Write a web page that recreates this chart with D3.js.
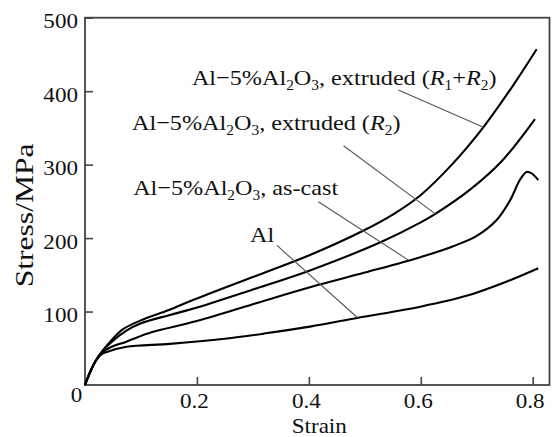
<!DOCTYPE html>
<html>
<head>
<meta charset="utf-8">
<script src="https://cdn.jsdelivr.net/npm/d3@7"></script>
<style>
  html, body { margin: 0; padding: 0; background: #fff; }
  svg { display: block; }
  text { font-family: "Liberation Serif", "Times New Roman", serif; fill: #111; }
</style>
</head>
<body>
<svg id="chart" width="552" height="437"></svg>
<script>
// Stress–strain curves (strain, stress in MPa)
const strainR12 = [0, 0.005, 0.01, 0.02, 0.03, 0.045, 0.068, 0.1, 0.15, 0.194, 0.3, 0.402, 0.497, 0.55, 0.599, 0.658, 0.712, 0.766, 0.807];
const stressR12 = [0, 10, 19, 34, 45, 59, 76, 88, 102, 116, 147, 177, 210, 232, 258, 302, 351, 409, 457];

const strainR2 = [0, 0.005, 0.01, 0.02, 0.03, 0.045, 0.074, 0.1, 0.15, 0.194, 0.3, 0.402, 0.53, 0.599, 0.626, 0.688, 0.745, 0.804];
const stressR2 = [0, 10, 19, 34, 45, 57, 74, 84, 95, 104, 130, 156, 195, 221, 233, 266, 305, 362];

const strainCast = [0, 0.005, 0.01, 0.02, 0.03, 0.045, 0.074, 0.12, 0.194, 0.3, 0.402, 0.5, 0.599, 0.658, 0.7, 0.736, 0.76, 0.777, 0.789, 0.798, 0.81];
const stressCast = [0, 10, 19, 34, 44, 51, 59, 72, 86, 110, 133, 153, 174, 189, 203, 225, 252, 279, 290, 288, 279];

const strainAl = [0, 0.005, 0.01, 0.02, 0.03, 0.039, 0.074, 0.152, 0.25, 0.32, 0.402, 0.488, 0.599, 0.68, 0.754, 0.81];
const stressAl = [0, 10, 19, 34, 42, 45, 52, 56, 63, 70, 79.5, 91.5, 106.6, 121, 141, 159];

// Axis ticks
const xTicks = [0.2, 0.4, 0.6, 0.8];
const xTickLabels = ["0.2", "0.4", "0.6", "0.8"];
const yTicks = [100, 200, 300, 400, 500];
const yTickLabels = ["100", "200", "300", "400", "500"];

// Curve labels: text pieces, text anchor point (strain, stress) and leader line ends
const labelPieces = [
  [{t: "Al\u22125%Al"}, {t: "2", sub: true}, {t: "O"}, {t: "3", sub: true}, {t: ", extruded ("}, {t: "R", it: true}, {t: "1", sub: true}, {t: "+"}, {t: "R", it: true}, {t: "2", sub: true}, {t: ")"}],
  [{t: "Al\u22125%Al"}, {t: "2", sub: true}, {t: "O"}, {t: "3", sub: true}, {t: ", extruded ("}, {t: "R", it: true}, {t: "2", sub: true}, {t: ")"}],
  [{t: "Al\u22125%Al"}, {t: "2", sub: true}, {t: "O"}, {t: "3", sub: true}, {t: ", as-cast"}],
  [{t: "Al"}]
];
const labelAt = [[0.191, 408], [0.084, 347], [0.086, 259], [0.295, 195]];
const leaderFrom = [[0.560, 401.6], [0.462, 325.7], [0.417, 249.5], [0.343, 190]];
const leaderTo = [[0.712, 351], [0.626, 233], [0.578, 170], [0.487, 91.5]];

const series = [
  {x: strainR12, y: stressR12},
  {x: strainR2, y: stressR2},
  {x: strainCast, y: stressCast},
  {x: strainAl, y: stressAl}
];

const svg = d3.select("#chart");
const x = d3.scaleLinear().domain([0, 0.83]).range([85, 549.5]);
const y = d3.scaleLinear().domain([0, 500]).range([385, 17.7]);
const sx = 1.1; // horizontal text stretch

const axisColor = "#444";

// Frame
svg.append("rect")
  .attr("x", x(0)).attr("y", y(500))
  .attr("width", x(0.83) - x(0)).attr("height", y(0) - y(500))
  .attr("fill", "none").attr("stroke", axisColor).attr("stroke-width", 1.8);

// Y axis
const yAxis = svg.append("g")
  .attr("transform", `translate(${x(0)},0)`)
  .call(d3.axisLeft(y).tickValues(yTicks).tickFormat((d, i) => yTickLabels[i]).tickSize(-8).tickPadding(7));
yAxis.select(".domain").remove();
yAxis.selectAll(".tick line").attr("stroke", axisColor).attr("stroke-width", 1.6);
yAxis.selectAll(".tick text")
  .attr("font-size", 21).attr("fill", "#111")
  .attr("x", -7 / sx).attr("dy", 10)
  .attr("transform", `scale(${sx},1)`)
  .style("font-family", "'Liberation Serif', serif");

// X axis
const xAxis = svg.append("g")
  .attr("transform", `translate(0,${y(0)})`)
  .call(d3.axisBottom(x).tickValues(xTicks).tickFormat((d, i) => xTickLabels[i]).tickSize(-8).tickPadding(7));
xAxis.select(".domain").remove();
xAxis.selectAll(".tick line").attr("stroke", axisColor).attr("stroke-width", 1.6);
xAxis.selectAll(".tick text")
  .attr("font-size", 21).attr("fill", "#111")
  .attr("y", 23).attr("dy", 0)
  .attr("x", -3 / sx)
  .attr("transform", `scale(${sx},1)`)
  .style("font-family", "'Liberation Serif', serif");

// Shared origin label
svg.append("text")
  .attr("transform", `translate(${x(0) - 8.5},${y(0) + 17}) scale(${sx},1)`)
  .attr("text-anchor", "middle").attr("font-size", 21)
  .text("0");

// Axis titles
svg.append("text")
  .attr("transform", `translate(${(x(0) + x(0.83)) / 2 + 2},${433}) scale(${sx},1)`)
  .attr("text-anchor", "middle").attr("font-size", 21)
  .text("Strain");

svg.append("text")
  .attr("transform", `translate(33,${(y(0) + y(500)) / 2 + 14}) rotate(-90)`)
  .attr("text-anchor", "middle").attr("font-size", 25)
  .attr("textLength", 144).attr("lengthAdjust", "spacingAndGlyphs")
  .text("Stress/MPa");

// Curves
const line = d3.line()
  .x(d => x(d[0])).y(d => y(d[1]))
  .curve(d3.curveCatmullRom.alpha(0.5));

svg.append("g").selectAll("path")
  .data(series)
  .join("path")
  .attr("d", s => line(s.x.map((v, i) => [v, s.y[i]])))
  .attr("fill", "none").attr("stroke", "#000")
  .attr("stroke-width", 2.1).attr("stroke-linejoin", "round");

// Leader lines
svg.append("g").selectAll("line")
  .data(leaderFrom)
  .join("line")
  .attr("x1", d => x(d[0])).attr("y1", d => y(d[1]))
  .attr("x2", (d, i) => x(leaderTo[i][0])).attr("y2", (d, i) => y(leaderTo[i][1]))
  .attr("stroke", "#555").attr("stroke-width", 1.1);

// Curve labels with subscripts
labelPieces.forEach((pieces, i) => {
  const t = svg.append("text")
    .attr("transform", `translate(${x(labelAt[i][0])},${y(labelAt[i][1])}) scale(${sx},1)`)
    .attr("font-size", 22);
  let shifted = false;
  pieces.forEach(p => {
    const ts = t.append("tspan").text(p.t);
    if (p.sub) {
      ts.attr("font-size", 14).attr("dy", shifted ? 0 : 5);
      shifted = true;
    } else {
      if (shifted) { ts.attr("dy", -5); shifted = false; }
      if (p.it) ts.attr("font-style", "italic");
    }
  });
});
</script>
</body>
</html>
